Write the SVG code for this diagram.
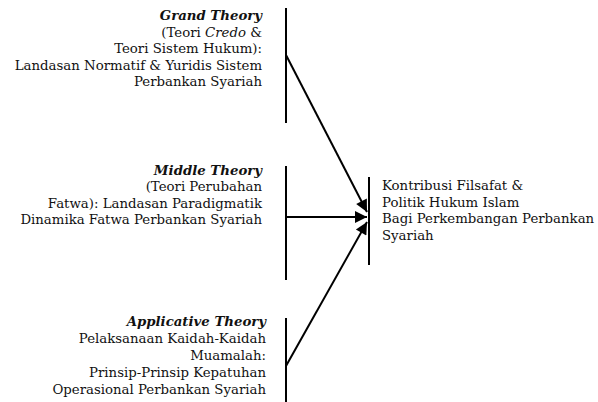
<svg xmlns="http://www.w3.org/2000/svg" width="598" height="402" viewBox="0 0 598 402">
  <style>
    .bar { stroke: #000; stroke-width: 2; fill: none; }
    .conn { stroke: #000; stroke-width: 2; fill: none; }
  </style>
  <defs>
    <marker id="arrow" viewBox="0 0 10 10" refX="10" refY="5" markerUnits="userSpaceOnUse" markerWidth="15" markerHeight="12" orient="auto">
      <path d="M0,0 L10,5 L0,10 Z" fill="#000"/>
    </marker>
  </defs>
  <rect width="598" height="402" fill="#fff"/>

  <g font-family="DejaVu Serif, serif" font-size="13.3" fill="#111">
    <g id="grand-theory" text-anchor="end">
      <line class="bar" x1="286" y1="8" x2="286" y2="123"/>
      <text x="262" y="20" font-weight="bold" font-style="italic">Grand Theory</text>
      <text x="262" y="36.5">(Teori <tspan font-style="italic">Credo</tspan> &amp;</text>
      <text x="262" y="53">Teori Sistem Hukum):</text>
      <text x="262" y="69.5">Landasan Normatif &amp; Yuridis Sistem</text>
      <text x="262" y="86">Perbankan Syariah</text>
    </g>

    <g id="middle-theory" text-anchor="end">
      <line class="bar" x1="286" y1="166" x2="286" y2="280"/>
      <text x="262" y="174.5" font-weight="bold" font-style="italic">Middle Theory</text>
      <text x="262" y="191">(Teori Perubahan</text>
      <text x="262" y="207.5">Fatwa): Landasan Paradigmatik</text>
      <text x="262" y="224">Dinamika Fatwa Perbankan Syariah</text>
    </g>

    <g id="applicative-theory" text-anchor="end">
      <line class="bar" x1="286" y1="318" x2="286" y2="402"/>
      <text x="266" y="325.5" font-weight="bold" font-style="italic">Applicative Theory</text>
      <text x="266" y="342.5">Pelaksanaan Kaidah-Kaidah</text>
      <text x="266" y="359.5">Muamalah:</text>
      <text x="266" y="376.5">Prinsip-Prinsip Kepatuhan</text>
      <text x="266" y="393.5">Operasional Perbankan Syariah</text>
    </g>

    <g id="kontribusi">
      <line class="bar" x1="369" y1="177" x2="369" y2="265"/>
      <text x="382" y="190">Kontribusi Filsafat &amp;</text>
      <text x="382" y="206.5">Politik Hukum Islam</text>
      <text x="382" y="223">Bagi Perkembangan Perbankan</text>
      <text x="382" y="239.5">Syariah</text>
    </g>
  </g>

  <g id="connectors">
    <line class="conn" x1="286" y1="55" x2="367" y2="212" marker-end="url(#arrow)"/>
    <line class="conn" x1="286" y1="217" x2="367" y2="217" marker-end="url(#arrow)"/>
    <line class="conn" x1="286" y1="366" x2="367" y2="222" marker-end="url(#arrow)"/>
  </g>
</svg>
